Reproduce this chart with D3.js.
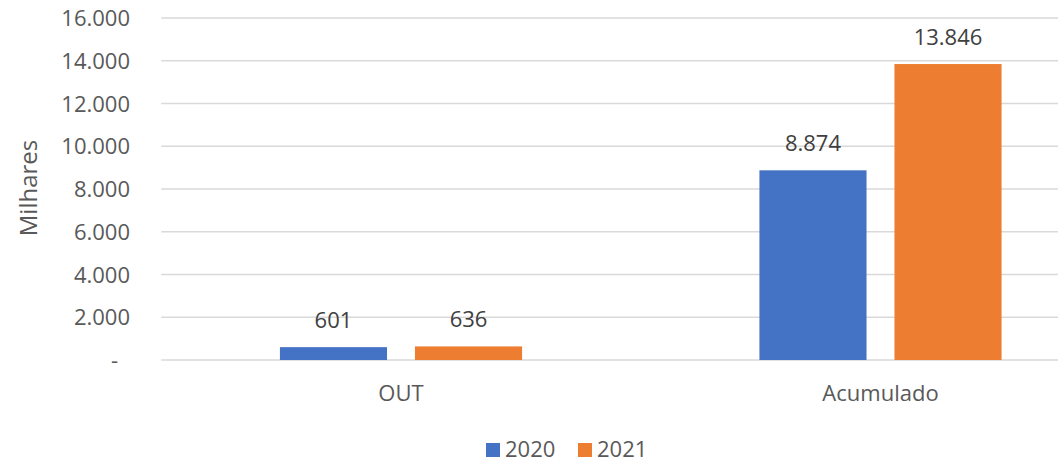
<!DOCTYPE html>
<html><head><meta charset="utf-8">
<script src="https://cdn.jsdelivr.net/npm/d3@7"></script>
<style>
html,body{margin:0;padding:0;background:#fff;}
svg{display:block;font-family:"Open Sans",sans-serif;}
</style></head>
<body><svg id="c" width="1058" height="462"></svg>
<script>
const categories = ["OUT", "Acumulado"];
const seriesNames = ["2020", "2021"];
const values2020 = [601, 8874];
const values2021 = [636, 13846];
const yTicks = [0, 2000, 4000, 6000, 8000, 10000, 12000, 14000, 16000];
const yTitle = "Milhares";
const colors = ["#4472C4", "#ED7D31"];

const seriesValues = [values2020, values2021];
const svg = d3.select("#c");
const locale = d3.formatLocale({decimal: ",", thousands: ".", grouping: [3], currency: ["", ""]});
const fmt = locale.format(",.0f");

const plotLeft = 161.25, plotRight = 1120.25, plotTop = 18, plotBottom = 360;
const x = d3.scaleBand().domain(categories).range([plotLeft, plotRight]).paddingInner(0.495).paddingOuter(0.2475);
const xi = d3.scaleBand().domain(seriesNames).range([0, x.bandwidth()]).paddingInner(0.207).paddingOuter(0);
const y = d3.scaleLinear().domain([0, 16000]).range([plotBottom, plotTop]);
const textColor = "#595959";

// gridlines
svg.append("g").selectAll("line").data(yTicks).join("line")
  .attr("x1", plotLeft).attr("x2", plotRight)
  .attr("y1", d => y(d)).attr("y2", d => y(d))
  .attr("stroke", "#D9D9D9").attr("stroke-width", 1.5);

// y axis labels
const yAxis = d3.axisLeft(y).tickValues(yTicks).tickSize(0).tickPadding(0)
  .tickFormat(d => d === 0 ? "-" : fmt(d));
const ya = svg.append("g").attr("transform", "translate(130,0)").call(yAxis);
ya.select(".domain").remove();
ya.selectAll("text").attr("fill", textColor).style("font-size", "22px")
  .style("font-family", "'Open Sans',sans-serif").attr("dy", "0.35em")
  .attr("x", d => d === 0 ? -12 : 0);

// y title
svg.append("text").attr("transform", "translate(37,188) rotate(-90)")
  .attr("text-anchor", "middle").attr("fill", textColor)
  .style("font-size", "24px").text(yTitle);

// bars
const data = [];
categories.forEach((c, i) => seriesNames.forEach((s, j) => data.push({c, s, v: seriesValues[j][i], j})));
svg.append("g").selectAll("rect").data(data).join("rect")
  .attr("x", d => x(d.c) + xi(d.s)).attr("width", xi.bandwidth())
  .attr("y", d => y(d.v)).attr("height", d => y(0) - y(d.v))
  .attr("fill", d => colors[d.j]);

// data labels
svg.append("g").selectAll("text").data(data).join("text")
  .attr("x", d => x(d.c) + xi(d.s) + xi.bandwidth() / 2)
  .attr("y", d => y(d.v) - 19)
  .attr("text-anchor", "middle").attr("fill", "#404040")
  .style("font-size", "22px").text(d => fmt(d.v));

// x axis labels
const xAxis = d3.axisBottom(x).tickSize(0).tickPadding(0);
const xa = svg.append("g").attr("transform", "translate(0,0)").call(xAxis);
xa.select(".domain").remove();
xa.selectAll("text").attr("y", 401).attr("dy", null).attr("fill", textColor)
  .style("font-size", "22px").style("font-family", "'Open Sans',sans-serif");

// legend
const legendX = [486, 578];
const lg = svg.append("g").selectAll("g").data(seriesNames).join("g")
  .attr("transform", (d, i) => `translate(${legendX[i]},0)`);
lg.append("rect").attr("x", 0).attr("y", 443).attr("width", 14).attr("height", 14)
  .attr("fill", (d, i) => colors[i]);
lg.append("text").attr("x", 19).attr("y", 457).attr("fill", textColor)
  .style("font-size", "22px").text(d => d);
</script></body></html>
